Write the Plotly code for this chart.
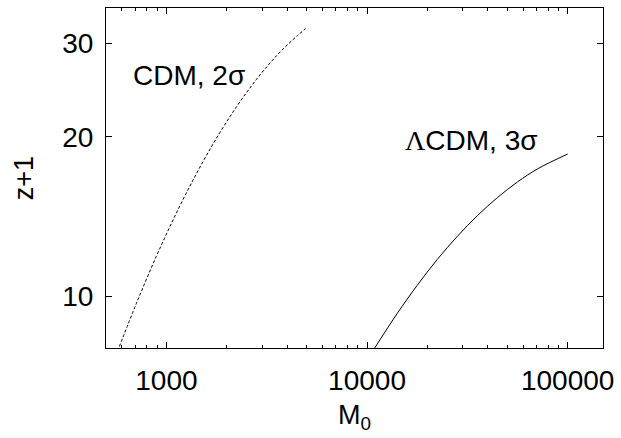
import numpy as np
import plotly.graph_objects as go

# CDM, 2 sigma (dashed)
cdm_m0 = [583, 708, 891, 1122, 1413, 1778, 2239, 2818, 3548, 4467, 4943]
cdm_z1 = [8.05, 9.70, 11.91, 14.38, 17.06, 19.90, 22.81, 25.70, 28.47, 30.98, 31.99]

# LambdaCDM, 3 sigma (solid)
lcdm_m0 = [10920, 14125, 17783, 22387, 28184, 35481, 44668, 56234, 70795, 100000]
lcdm_z1 = [8.0, 9.29, 10.50, 11.75, 12.99, 14.21, 15.37, 16.45, 17.41, 18.57]

x_ticks = [1000, 10000, 100000]
y_ticks = [10, 20, 30]
x_minor = [500, 600, 700, 800, 900,
           2000, 3000, 4000, 5000, 6000, 7000, 8000, 9000,
           20000, 30000, 40000, 50000, 60000, 70000, 80000, 90000]

FONT = "Liberation Sans, Arial, Helvetica, sans-serif"
XR = [np.log10(500), np.log10(150000)]
YR = [np.log10(8), np.log10(35)]

fig = go.Figure()
fig.add_trace(go.Scatter(x=cdm_m0, y=cdm_z1, mode="lines", line_shape="spline",
                         line=dict(color="black", width=1, dash="3px,2px"), showlegend=False))
fig.add_trace(go.Scatter(x=lcdm_m0, y=lcdm_z1, mode="lines", line_shape="spline",
                         line=dict(color="black", width=1), showlegend=False))
# invisible trace carrying the mirrored top axis
fig.add_trace(go.Scatter(x=lcdm_m0, y=lcdm_z1, xaxis="x2", mode="lines",
                         line=dict(color="rgba(0,0,0,0)", width=0), hoverinfo="skip", showlegend=False))

fig.add_annotation(x=np.log10(668), y=np.log10(26.1), text="CDM, 2σ", showarrow=False,
                   xanchor="left", yanchor="middle", font=dict(family=FONT, size=28, color="black"))
fig.add_annotation(x=np.log10(15070), y=np.log10(19.7),
                   text="<span style='font-family:Liberation Serif'>Λ</span>CDM, 3σ", showarrow=False,
                   xanchor="left", yanchor="middle", font=dict(family=FONT, size=28, color="black"))

fig.update_layout(
    xaxis=dict(type="log", range=XR,
               tickvals=x_ticks, ticktext=[str(v) for v in x_ticks],
               ticks="inside", ticklen=6, tickcolor="black",
               showline=True, linecolor="black", linewidth=1, mirror=True,
               showgrid=False, zeroline=False,
               minor=dict(tickvals=x_minor, ticks="inside", ticklen=3, tickcolor="black", showgrid=False),
               tickfont=dict(family=FONT, size=28, color="black"), ticklabelstandoff=7,
               title=dict(text="M<sub>0</sub>", font=dict(family=FONT, size=27, color="black"), standoff=10)),
    xaxis2=dict(type="log", range=XR, overlaying="x", side="top", anchor="y",
                tickvals=x_ticks, showticklabels=False,
                ticks="inside", ticklen=6, tickcolor="black",
                showline=False, showgrid=False, zeroline=False,
                minor=dict(tickvals=x_minor, ticks="inside", ticklen=3, tickcolor="black", showgrid=False)),
    yaxis=dict(type="log", range=YR,
               tickvals=y_ticks, ticktext=[str(v) for v in y_ticks],
               ticks="inside", ticklen=6, tickcolor="black",
               showline=True, linecolor="black", linewidth=1, mirror="ticks",
               showgrid=False, zeroline=False,
               tickfont=dict(family=FONT, size=28, color="black"), ticklabelstandoff=6,
               title=dict(text="z+1", font=dict(family=FONT, size=27, color="black"), standoff=20)),
    width=621, height=438, plot_bgcolor="white", paper_bgcolor="white",
    margin=dict(l=106, r=15, t=7, b=90),
)

fig.write_html("out.html")
